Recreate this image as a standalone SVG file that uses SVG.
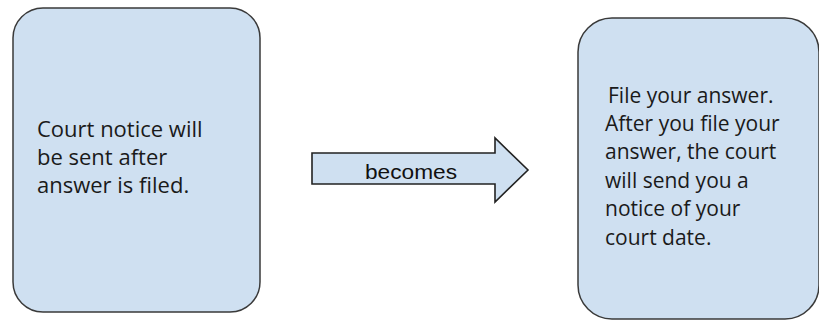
<svg xmlns="http://www.w3.org/2000/svg" width="819" height="321" viewBox="0 0 819 321">
<style>
.box{fill:#cfe0f1;stroke:#3a3a3a;stroke-width:1.5}
.arrow{fill:#cfe0f1;stroke:#222222;stroke-width:1.6}
.t{font-family:"Open Sans","DejaVu Sans",sans-serif;fill:#1a1a1a}
.lbl{font-family:"Liberation Sans",Arial,sans-serif;font-size:20px;fill:#111}
</style>
<rect width="819" height="321" fill="#ffffff"/>
<g id="node-left">
<rect class="box" x="13" y="8" width="247" height="304" rx="30" ry="30"/>
<text class="t" font-size="22" x="37" y="137">Court notice will</text>
<text class="t" font-size="22" x="37" y="165">be sent after</text>
<text class="t" font-size="22" x="37" y="193">answer is filed.</text>
</g>
<g id="connectors">
<g id="arrow-becomes">
<path class="arrow" d="M312,153 L495,153 L495,138 L528,170 L495,202 L495,184 L312,184 Z"/>
<text class="lbl" x="365" y="179" textLength="92" lengthAdjust="spacingAndGlyphs">becomes</text>
</g>
</g>
<g id="node-right">
<rect class="box" x="578" y="18" width="241" height="301" rx="34" ry="34"/>
<text class="t" font-size="21" x="608" y="103">File your answer.</text>
<text class="t" font-size="21" x="605" y="131">After you file your</text>
<text class="t" font-size="21" x="605" y="159">answer, the court</text>
<text class="t" font-size="21" x="605" y="188">will send you a</text>
<text class="t" font-size="21" x="605" y="216">notice of your</text>
<text class="t" font-size="21" x="605" y="245">court date.</text>
</g>
</svg>
